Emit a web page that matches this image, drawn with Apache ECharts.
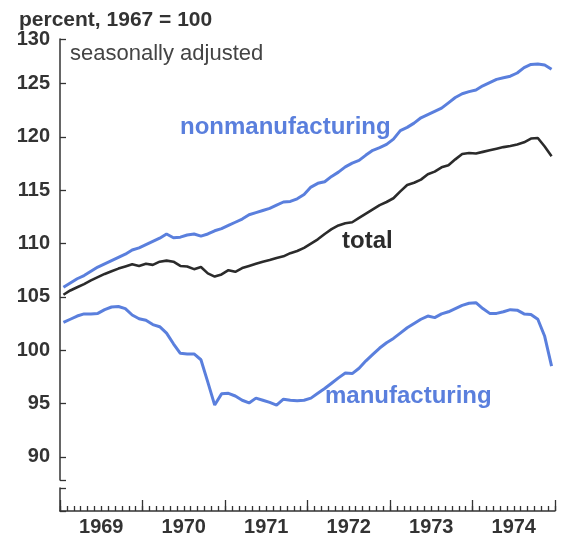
<!DOCTYPE html>
<html>
<head>
<meta charset="utf-8">
<script src="https://cdn.jsdelivr.net/npm/echarts@6/dist/echarts.min.js"></script>
<style>
  html, body { margin: 0; padding: 0; background: #fff; }
  #chart { width: 564px; height: 534px; }
</style>
</head>
<body>
<div id="chart"></div>
<script>
const years = ["1969", "1970", "1971", "1972", "1973", "1974"];
const monthNames = ["Jan", "Feb", "Mar", "Apr", "May", "Jun", "Jul", "Aug", "Sep", "Oct", "Nov", "Dec"];
const months = years.flatMap((y) => monthNames.map((m) => m + " " + y));

// axis ends (the top of the axis is marked 130, the bottom is the break)
const yMin = 87.82;
const yMax = 129.19;
const yTopLabel = "130";

const nonmanufacturing = [
  105.9, 106.3, 106.7, 107.0, 107.4, 107.8, 108.1, 108.4, 108.7, 109.0, 109.4, 109.6,
  109.9, 110.2, 110.5, 110.9, 110.55, 110.6, 110.8, 110.9, 110.7, 110.9, 111.2, 111.4,
  111.7, 112.0, 112.3, 112.7, 112.9, 113.1, 113.3, 113.6, 113.9, 113.95, 114.2, 114.6,
  115.3, 115.65, 115.8, 116.3, 116.7, 117.2, 117.55, 117.8, 118.3, 118.75, 119.0, 119.3,
  119.8, 120.6, 120.9, 121.3, 121.8, 122.1, 122.4, 122.7, 123.2, 123.7, 124.05, 124.25,
  124.4, 124.8, 125.1, 125.4, 125.55, 125.7, 126.0, 126.5, 126.8, 126.85, 126.75, 126.35
];

const total = [
  105.2, 105.6, 105.9, 106.2, 106.55, 106.85, 107.15, 107.4, 107.65, 107.85, 108.05, 107.9,
  108.1, 108.0, 108.3, 108.4, 108.3, 107.9, 107.85, 107.6, 107.8, 107.2, 106.9, 107.1,
  107.5, 107.35, 107.7, 107.9, 108.1, 108.3, 108.45, 108.65, 108.8, 109.1, 109.3, 109.6,
  110.0, 110.4, 110.9, 111.35, 111.7, 111.9, 112.0, 112.4, 112.8, 113.2, 113.6, 113.9,
  114.25, 114.9, 115.5, 115.7, 116.0, 116.5, 116.75, 117.15, 117.35, 117.9, 118.4, 118.5,
  118.45, 118.6, 118.75, 118.9, 119.05, 119.15, 119.3, 119.5, 119.85, 119.9, 119.1, 118.2
];

const manufacturing = [
  102.6, 102.9, 103.2, 103.4, 103.4, 103.45, 103.8, 104.05, 104.1, 103.9, 103.3, 102.95,
  102.8, 102.4, 102.2, 101.6, 100.6, 99.7, 99.65, 99.65, 99.1, 97.0, 94.85, 95.9,
  95.95, 95.7, 95.3, 95.05, 95.5, 95.3, 95.1, 94.85, 95.4, 95.3, 95.25, 95.3,
  95.5, 95.95, 96.4, 96.9, 97.4, 97.85, 97.8, 98.3, 99.0, 99.6, 100.2, 100.7,
  101.1, 101.6, 102.1, 102.5, 102.9, 103.2, 103.05, 103.4, 103.6, 103.9, 104.2, 104.4,
  104.45, 103.9, 103.45, 103.45, 103.6, 103.8, 103.75, 103.4, 103.35, 102.9, 101.3, 98.5
];

const blue = "#5a7fdd";
const dark = "#2b2b2b";
const ink = "#333";
const font = '"Liberation Sans", Arial, Helvetica, sans-serif';

const chart = echarts.init(document.getElementById("chart"));

const axisLine = { show: true, lineStyle: { color: ink, width: 1.5 } };
const tickStyle = { color: ink, width: 1.3 };

function lineSeries(name, data, color, width) {
  return {
    name: name,
    type: "line",
    xAxisIndex: 0,
    yAxisIndex: 0,
    data: data,
    showSymbol: false,
    silent: true,
    lineStyle: { color: color, width: width },
  };
}

const option = {
  animation: false,
  backgroundColor: "#fff",
  title: {
    text: "percent, 1967 = 100",
    left: 14,
    top: 5,
    textStyle: { fontFamily: font, fontSize: 21, fontWeight: "bold", color: ink },
  },
  grid: [
    { left: 60, right: 9, top: 39, height: 441, outerBoundsMode: "none" },
    { left: 60, right: 9, top: 488, height: 23, outerBoundsMode: "none" },
  ],
  xAxis: [
    { gridIndex: 0, type: "category", data: months, boundaryGap: true, show: false },
    {
      gridIndex: 1,
      type: "category",
      data: months,
      position: "bottom",
      axisLine: axisLine,
      axisTick: { show: true, inside: true, length: 5, interval: 0, lineStyle: tickStyle },
      axisLabel: { show: false },
    },
    {
      gridIndex: 1,
      type: "category",
      data: years,
      position: "bottom",
      axisLine: { show: false },
      axisTick: { show: true, inside: true, length: 11, lineStyle: tickStyle },
      axisLabel: { margin: 6, fontFamily: font, fontSize: 20, fontWeight: "bold", color: ink },
    },
  ],
  yAxis: [
    {
      gridIndex: 0,
      type: "value",
      min: yMin,
      max: yMax,
      splitNumber: 8,
      axisLine: axisLine,
      axisTick: { show: true, inside: true, length: 6, lineStyle: tickStyle },
      splitLine: { show: false },
      axisLabel: {
        margin: 10,
        fontFamily: font,
        fontSize: 20,
        fontWeight: "bold",
        color: ink,
        formatter: (v) => (v === yMax ? yTopLabel : v === yMin ? "" : String(v)),
      },
    },
    {
      gridIndex: 1,
      type: "value",
      min: 0,
      max: 1,
      interval: 1,
      axisLine: axisLine,
      axisTick: { show: true, inside: true, length: 6, lineStyle: tickStyle },
      splitLine: { show: false },
      axisLabel: { show: false },
    },
  ],
  graphic: [
    {
      type: "text",
      left: 70,
      top: 43,
      style: { text: "seasonally adjusted", font: "22px " + font, fill: "#444" },
    },
    {
      type: "text",
      left: 180,
      top: 115,
      style: { text: "nonmanufacturing", font: "bold 24px " + font, fill: blue },
    },
    {
      type: "text",
      left: 342,
      top: 229,
      style: { text: "total", font: "bold 24px " + font, fill: dark },
    },
    {
      type: "text",
      left: 325,
      top: 384,
      style: { text: "manufacturing", font: "bold 24px " + font, fill: blue },
    },
  ],
  series: [
    lineSeries("nonmanufacturing", nonmanufacturing, blue, 3),
    lineSeries("total", total, dark, 2.6),
    lineSeries("manufacturing", manufacturing, blue, 3),
  ],
};

chart.setOption(option);
</script>
</body>
</html>
